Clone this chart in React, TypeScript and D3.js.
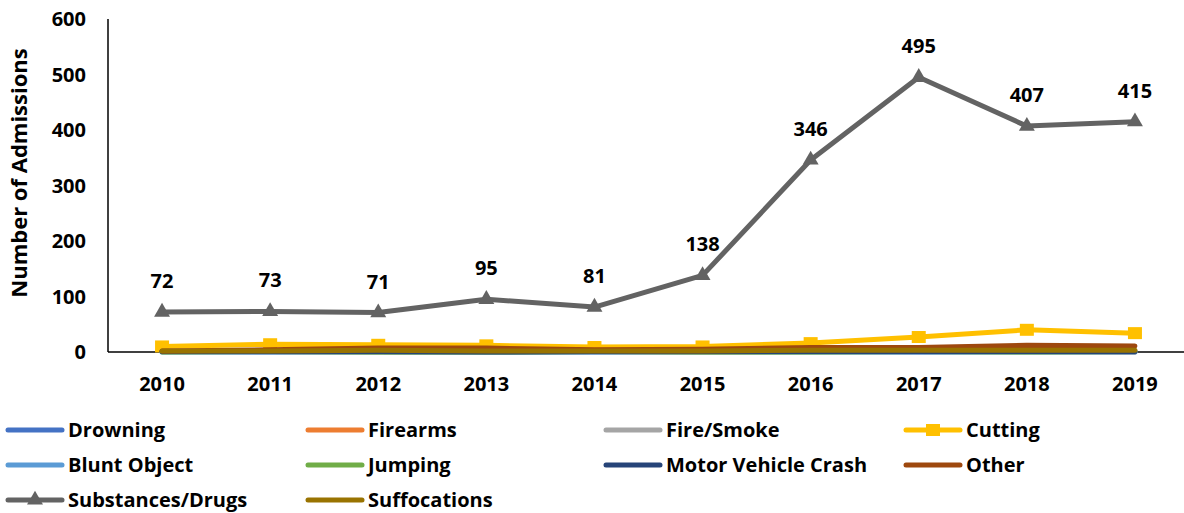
import React from "react";
import * as d3 from "d3";

const years = ["2010", "2011", "2012", "2013", "2014", "2015", "2016", "2017", "2018", "2019"];
const drowning = [1, 0, 1, 1, 0, 1, 1, 0, 1, 0];
const firearms = [1, 1, 0, 1, 1, 0, 1, 1, 1, 0];
const fireSmoke = [0, 0, 0, 0, 0, 0, 0, 0, 0, 0];
const cutting = [10, 14, 13, 12, 9, 10, 16, 27, 40, 34];
const bluntObject = [0, 0, 0, 0, 0, 0, 0, 0, 0, 0];
const jumping = [0, 1, 0, 0, 1, 0, 0, 1, 0, 1];
const motorVehicle = [1, 1, 1, 0, 1, 1, 1, 1, 1, 1];
const other = [2, 4, 7, 7, 4, 5, 8, 8, 12, 11];
const substances = [72, 73, 71, 95, 81, 138, 346, 495, 407, 415];
const suffocations = [2, 2, 3, 2, 2, 2, 3, 3, 3, 3];
const yTicks = [0, 100, 200, 300, 400, 500, 600];

type S = { name: string; values: number[]; color: string; marker?: "square" | "triangle"; labels?: boolean };
const series: S[] = [
  { name: "Drowning", values: drowning, color: "#4472C4" },
  { name: "Firearms", values: firearms, color: "#ED7D31" },
  { name: "Fire/Smoke", values: fireSmoke, color: "#A5A5A5" },
  { name: "Cutting", values: cutting, color: "#FFC000", marker: "square" },
  { name: "Blunt Object", values: bluntObject, color: "#5B9BD5" },
  { name: "Jumping", values: jumping, color: "#70AD47" },
  { name: "Motor Vehicle Crash", values: motorVehicle, color: "#264478" },
  { name: "Other", values: other, color: "#9E480E" },
  { name: "Substances/Drugs", values: substances, color: "#636363", marker: "triangle", labels: true },
  { name: "Suffocations", values: suffocations, color: "#997300" },
];

const FONT = "'Open Sans', Lato, sans-serif";

export default function App() {
  const W = 1184, H = 513;
  const x = d3.scaleBand().domain(years).range([108, 1189]);
  const y = d3.scaleLinear().domain([0, 600]).range([352, 19]);
  const cx = (i: number) => (x(years[i]) as number) + x.bandwidth() / 2;
  const line = d3.line<number>().x((_, i) => cx(i)).y((d) => y(d));
  const tri = d3.symbol().type(d3.symbolTriangle).size(110)();

  const legendCols = [8, 308, 606, 906];
  const legendRows = [430, 465, 500];

  const marker = (s: S, px: number, py: number, key: any) =>
    s.marker === "square" ? (
      <rect key={key} x={px - 7} y={py - 6} width={14} height={12} fill={s.color} />
    ) : s.marker === "triangle" ? (
      <path key={key} d={tri as string} transform={`translate(${px},${py})`} fill={s.color} />
    ) : null;

  return (
    <svg width={W} height={H} style={{ position: "absolute", left: 0, top: 0, background: "#fff" }}>
      <g fontFamily={FONT} fontWeight="bold" fill="#000">
        {yTicks.map((t) => (
          <text key={t} x={86} y={y(t)} dy="0.35em" textAnchor="end" fontSize={20}>{t}</text>
        ))}
        {years.map((yr, i) => (
          <text key={yr} x={cx(i)} y={384} dy="0.35em" textAnchor="middle" fontSize={20}>{yr}</text>
        ))}
        <text transform="translate(19,173) rotate(-90)" textAnchor="middle" dy="0.35em" fontSize={22}>Number of Admissions</text>
      </g>
      <line x1={108} x2={108} y1={19} y2={352} stroke="#000" strokeWidth={1.5} />
      <line x1={108} x2={1189} y1={352} y2={352} stroke="#000" strokeWidth={1.5} />
      {series.map((s) => (
        <g key={s.name}>
          <path d={line(s.values) as string} fill="none" stroke={s.color} strokeWidth={5} strokeLinejoin="round" strokeLinecap="round" />
          {s.marker && s.values.map((v, i) => marker(s, cx(i), y(v), i))}
          {s.labels && s.values.map((v, i) => (
            <text key={"l" + i} x={cx(i)} y={y(v) - 31} dy="0.35em" textAnchor="middle" fontFamily={FONT} fontWeight="bold" fontSize={20}>{v}</text>
          ))}
        </g>
      ))}
      {series.map((s, k) => {
        const lx = legendCols[k % 4];
        const ly = legendRows[Math.floor(k / 4)];
        return (
          <g key={"lg" + s.name}>
            <line x1={lx} x2={lx + 54} y1={ly} y2={ly} stroke={s.color} strokeWidth={5} strokeLinecap="round" />
            {marker(s, lx + 27, ly, "m")}
            <text x={lx + 60} y={ly} dy="0.35em" fontFamily={FONT} fontWeight="bold" fontSize={20}>{s.name}</text>
          </g>
        );
      })}
    </svg>
  );
}
